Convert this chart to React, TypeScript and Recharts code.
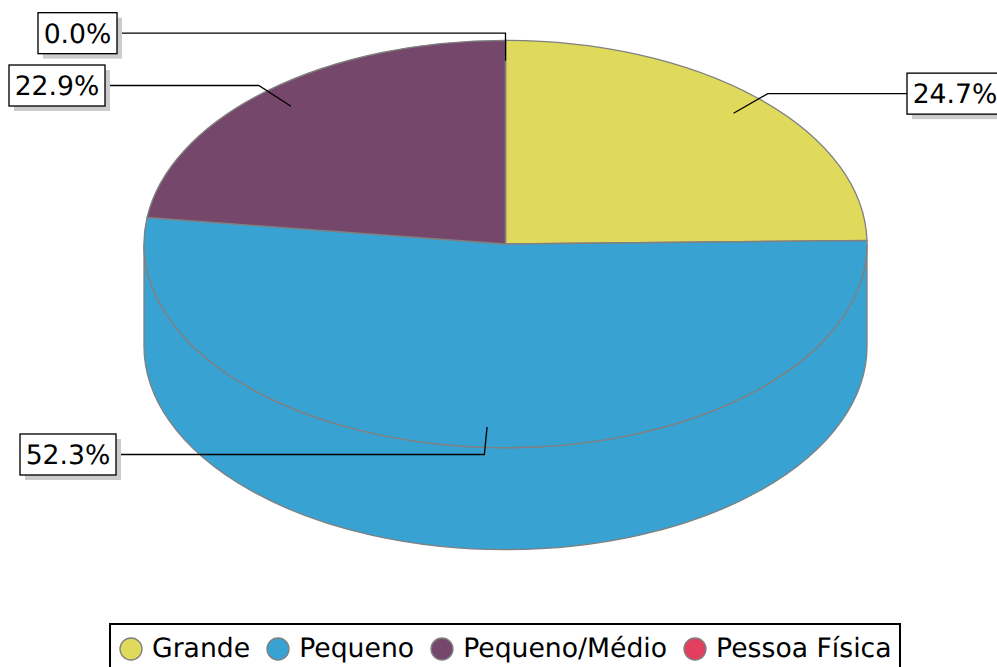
import React from "react";
import { Legend, Pie, PieChart } from "recharts";

const categories = ["Grande", "Pequeno", "Pequeno/Médio", "Pessoa Física"];
const shares = [24.7, 52.3, 22.9, 0.0];
const sliceColors = ["#e0da5c", "#38a2d3", "#75476b", "#e23f5f"];

// left edge of each value box, same order as categories
const labelBoxLeft = [907, 20, 9, 38];

const chartData = categories.map((name, i) => ({
  name,
  value: shares[i],
  fill: sliceColors[i],
}));

const FONT = "'DejaVu Sans', sans-serif";
const FONT_SIZE = 26.67;
const TILT = 0.5635; // ellipse height / width
const DEPTH = 102; // height of the cylinder wall
const EDGE = "#808080";
const THIN = 1.33;

const toPoint = (cx: number, cy: number, r: number, angle: number) => {
  const rad = (angle * Math.PI) / 180;
  return { x: cx + r * Math.cos(rad), y: cy - r * TILT * Math.sin(rad) };
};

// Recharts hands over the angles, this only squashes the sector into an ellipse and adds the wall
const TiltedSector = (props: any) => {
  const { cx, cy, outerRadius: r, startAngle, endAngle, fill } = props;
  const ry = r * TILT;
  const a = toPoint(cx, cy, r, startAngle);
  const b = toPoint(cx, cy, r, endAngle);
  const large = startAngle - endAngle > 180 ? 1 : 0;
  const top = `M${cx},${cy} L${a.x},${a.y} A${r},${ry} 0 ${large} 1 ${b.x},${b.y} Z`;

  const wallStart = Math.min(startAngle, 0);
  const wallEnd = Math.max(endAngle, -180);
  let wall = null;
  if (wallEnd < wallStart) {
    const p = toPoint(cx, cy, r, wallStart);
    const q = toPoint(cx, cy, r, wallEnd);
    wall = `M${p.x},${p.y} L${p.x},${p.y + DEPTH} A${r},${ry} 0 0 1 ${q.x},${q.y + DEPTH} L${q.x},${q.y} A${r},${ry} 0 0 0 ${p.x},${p.y} Z`;
  }

  return (
    <g>
      {wall && <path d={wall} fill={fill} stroke={EDGE} strokeWidth={THIN} />}
      <path d={top} fill={fill} stroke={EDGE} strokeWidth={THIN} />
    </g>
  );
};

const renderValueBox = (props: any) => {
  const { cx, cy, outerRadius: r, midAngle, index, value } = props;
  const start = toPoint(cx, cy, r * 0.9, midAngle);
  const elbow = toPoint(cx, cy, r * 1.035, midAngle);
  const boxX = labelBoxLeft[index];
  const boxW = index === 3 ? 79 : 96;
  const boxH = 41;
  const boxY = elbow.y - boxH / 2;
  const lineEnd = boxX > cx ? boxX : boxX + boxW;

  return (
    <g key={categories[index]}>
      <polyline
        points={`${start.x},${start.y} ${elbow.x},${elbow.y} ${lineEnd},${elbow.y}`}
        fill="none"
        stroke="#000"
        strokeWidth={THIN}
      />
      <rect x={boxX + 5} y={boxY + 5} width={boxW} height={boxH} fill="#cccccc" />
      <rect x={boxX} y={boxY} width={boxW} height={boxH} fill="#fff" stroke="#000" strokeWidth={THIN} />
      <text
        x={boxX + boxW / 2}
        y={elbow.y + 9.5}
        textAnchor="middle"
        fontFamily={FONT}
        fontSize={FONT_SIZE}
        fill="#000"
        style={{ textRendering: "geometricPrecision" }}
      >
        {value.toFixed(1)}%
      </text>
    </g>
  );
};

const LegendBox = ({ payload }: any) => (
  <div
    style={{
      boxSizing: "border-box",
      display: "flex",
      alignItems: "center",
      width: 792,
      height: 52,
      paddingLeft: 8,
      border: "2.67px solid #000",
      background: "#fff",
      fontFamily: FONT,
      fontSize: FONT_SIZE,
      lineHeight: "30px",
      color: "#000",
      whiteSpace: "nowrap",
      textRendering: "geometricPrecision",
    }}
  >
    {(payload ?? []).map((item: any) => (
      <span key={item.value} style={{ display: "flex", alignItems: "center", marginRight: 16 }}>
        <svg width={24} height={24} style={{ marginRight: 9 }}>
          <circle cx={12} cy={12} r={11} fill={item.color} stroke={EDGE} strokeWidth={THIN} />
        </svg>
        {item.value}
      </span>
    ))}
  </div>
);

export default function App() {
  return (
    <div style={{ position: "absolute", left: 0, top: 0, width: 997, height: 667, overflow: "hidden", background: "#fff" }}>
      <PieChart width={997} height={667} margin={{ top: 0, right: 0, bottom: 0, left: 0 }}>
        <Pie
          data={chartData}
          dataKey="value"
          nameKey="name"
          cx={505.5}
          cy={244}
          innerRadius={0}
          outerRadius={361.5}
          startAngle={90}
          endAngle={-270}
          paddingAngle={0}
          shape={TiltedSector}
          label={renderValueBox}
          labelLine={false}
          isAnimationActive={false}
        />
        <Legend
          content={<LegendBox />}
          wrapperStyle={{ position: "absolute", left: 109, top: 622.5, width: 792, height: 52 }}
        />
      </PieChart>
    </div>
  );
}
